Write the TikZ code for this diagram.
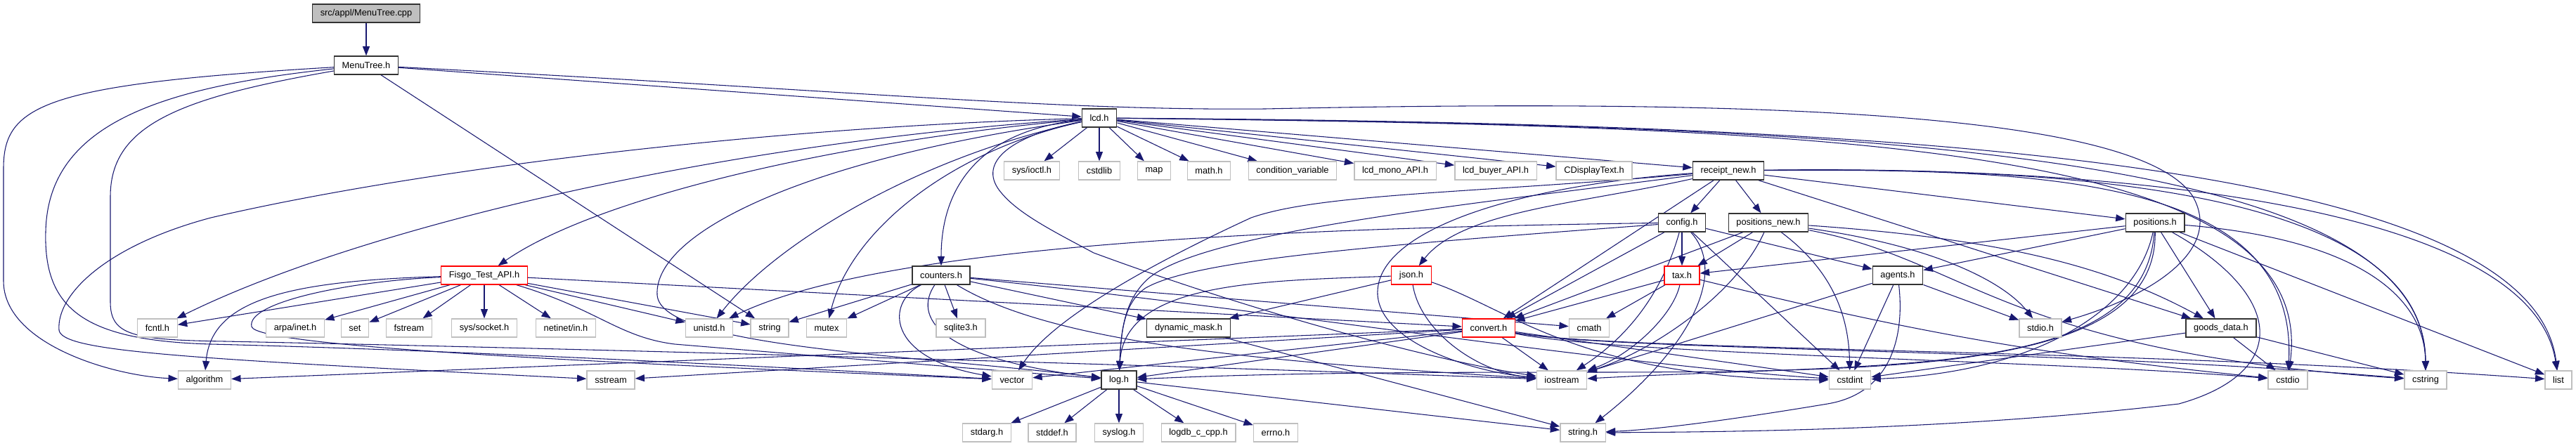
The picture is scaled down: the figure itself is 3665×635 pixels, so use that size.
\documentclass[tikz,border=0pt]{standalone}
\usepackage{fontspec}
\setmainfont{Liberation Sans}
\usetikzlibrary{arrows.meta,backgrounds}
\definecolor{edgeblue}{RGB}{25,25,112}
\definecolor{sysgray}{RGB}{191,191,191}

\begin{document}
\begin{tikzpicture}[
        x=0.75pt, y=-0.75pt,
        font=\fontsize{9.6pt}{11pt}\selectfont,
        box/.style={rectangle, inner xsep=8.4pt, inner ysep=0pt, minimum height=19.5pt, line width=1pt, fill=white},
        root/.style={box, draw=black!80, fill=sysgray},
        hdr/.style={box, draw=black!80},
        cut/.style={box, draw=red},
        sys/.style={box, draw=sysgray},
        link/.style={draw=edgeblue, line width=0.8pt, -{Triangle[length=10pt,width=7.5pt]}}
    ]
    \useasboundingbox (0,0) rectangle (3665,635);

    \node[root] (cpp) at (521,19) {src/appl/MenuTree.cpp};
    \node[hdr] (mt) at (521,93) {MenuTree.h};
    \node[hdr] (lcd) at (1564,168) {lcd.h};

    \node[sys] (ioctl) at (1468,243) {sys/ioctl.h};
    \node[sys] (cstdlib) at (1564,243) {cstdlib};
    \node[sys] (map) at (1642,243) {map};
    \node[sys] (mathh) at (1720,243) {math.h};
    \node[sys] (condvar) at (1839,243) {condition\_variable};
    \node[sys] (lcdmono) at (1985,243) {lcd\_mono\_API.h};
    \node[sys] (lcdbuyer) at (2128,243) {lcd\_buyer\_API.h};
    \node[sys] (cdisp) at (2268,243) {CDisplayText.h};
    \node[hdr] (receipt) at (2459,243) {receipt\_new.h};

    \node[hdr] (config) at (2393,317) {config.h};
    \node[hdr] (posnew) at (2516,317) {positions\_new.h};
    \node[hdr] (pos) at (3066,317) {positions.h};

    \node[cut] (fisgo) at (689,392) {Fisgo\_Test\_API.h};
    \node[hdr] (counters) at (1339,392) {counters.h};
    \node[cut] (json) at (2008,392) {json.h};
    \node[cut] (tax) at (2393,392) {tax.h};
    \node[hdr] (agents) at (2700,392) {agents.h};

    \node[sys] (fcntl) at (224,467) {fcntl.h};
    \node[sys] (inet) at (420,467) {arpa/inet.h};
    \node[sys] (set) at (505,467) {set};
    \node[sys] (fstream) at (582,467) {fstream};
    \node[sys] (socket) at (689,467) {sys/socket.h};
    \node[sys] (netin) at (805,467) {netinet/in.h};
    \node[sys] (unistd) at (1009,467) {unistd.h};
    \node[sys] (string) at (1095,467) {string};
    \node[sys] (mutex) at (1176,467) {mutex};
    \node[sys] (sqlite) at (1367,467) {sqlite3.h};
    \node[hdr] (dmask) at (1691,467) {dynamic\_mask.h};
    \node[cut] (convert) at (2118,467) {convert.h};
    \node[sys] (cmath) at (2261,467) {cmath};
    \node[sys] (stdio) at (2903,467) {stdio.h};
    \node[hdr] (goods) at (3160,467) {goods\_data.h};

    \node[sys] (algorithm) at (291,541) {algorithm};
    \node[sys] (sstream) at (869,541) {sstream};
    \node[sys] (vector) at (1440,541) {vector};
    \node[hdr] (logh) at (1592,541) {log.h};
    \node[sys] (iostream) at (2222,541) {iostream};
    \node[sys] (cstdint) at (2632,541) {cstdint};
    \node[sys] (cstdio) at (3255,541) {cstdio};
    \node[sys] (cstring) at (3451,541) {cstring};
    \node[sys] (list) at (3640,541) {list};

    \node[sys] (stdarg) at (1404,616) {stdarg.h};
    \node[sys] (stddef) at (1497,616) {stddef.h};
    \node[sys] (syslog) at (1592,616) {syslog.h};
    \node[sys] (logdb) at (1705,616) {logdb\_c\_cpp.h};
    \node[sys] (errno) at (1815,616) {errno.h};
    \node[sys] (stringh) at (2252,616) {string.h};

    \begin{scope}[on background layer]
    \draw[link] (cpp) -- (mt);

    \draw[link] (mt) -- (lcd);
    \draw[link] (mt) -- (string);
    \draw[link] (mt) .. controls (1200,128) and (1500,158) .. (1800,155) .. controls (2600,138) and (3050,170) .. (3120,280) .. controls (3165,360) and (3050,425) .. (stdio);
    \draw[link] (mt) .. controls (60,120) and (5,150) .. (5,240) -- (5,400) .. controls (5,490) and (160,535) .. (algorithm);
    \draw[link] (mt) .. controls (220,125) and (68,180) .. (65,330) .. controls (62,440) and (120,485) .. (300,490) .. controls (700,500) and (1200,528) .. (vector);
    \draw[link] (mt) .. controls (250,140) and (157,180) .. (157,280) -- (157,430) .. controls (157,478) and (190,484) .. (320,486) .. controls (1000,500) and (1800,525) .. (iostream);

    \foreach \t in {ioctl,cstdlib,map,mathh,condvar,lcdmono,lcdbuyer,cdisp,receipt}
        \draw[link] (lcd) -- (\t);
    \draw[link] (lcd) .. controls (1000,205) and (500,330) .. (fcntl);
    \draw[link] (lcd) .. controls (1200,200) and (850,280) .. (fisgo);
    \draw[link] (lcd) .. controls (1300,225) and (1100,350) .. (unistd);
    \draw[link] (lcd) .. controls (1350,215) and (1210,330) .. (mutex);
    \draw[link] (lcd) .. controls (1400,185) and (1339,260) .. (counters);
    \draw[link] (lcd) .. controls (1100,180) and (600,240) .. (300,310) .. controls (150,350) and (80,420) .. (84,470) .. controls (88,500) and (250,510) .. (sstream);
    \draw[link] (lcd) .. controls (1150,225) and (930,330) .. (935,420) .. controls (940,495) and (1300,505) .. (logh);
    \draw[link] (lcd) .. controls (1430,195) and (1390,235) .. (1425,275) .. controls (1450,305) and (1500,330) .. (1556,360) .. controls (1800,450) and (2050,515) .. (iostream);
    \draw[link] (lcd) .. controls (2600,180) and (3300,200) .. (cstdio);
    \draw[link] (lcd) .. controls (2600,178) and (3450,205) .. (cstring);
    \draw[link] (lcd) .. controls (2650,175) and (3600,220) .. (list);

    \foreach \t in {fcntl,inet,set,fstream,socket,netin,unistd,string,convert}
        \draw[link] (fisgo) -- (\t);
    \draw[link] (fisgo) .. controls (400,400) and (300,430) .. (algorithm);
    \draw[link] (fisgo) .. controls (500,400) and (350,430) .. (358,465) .. controls (365,495) and (900,518) .. (vector);
    \draw[link] (fisgo) .. controls (850,440) and (880,480) .. (960,490) .. controls (1200,510) and (1450,530) .. (logh);

    \foreach \t in {string,mutex,sqlite,dmask,cmath}
        \draw[link] (counters) -- (\t);
    \draw[link] (counters) .. controls (1260,430) and (1260,510) .. (vector);
    \draw[link] (counters) .. controls (1300,450) and (1330,510) .. (logh);
    \draw[link] (counters) .. controls (1500,490) and (1800,515) .. (iostream);
    \draw[link] (counters) .. controls (1800,440) and (2300,520) .. (cstdint);

    \foreach \t in {config,posnew,pos,convert,goods}
        \draw[link] (receipt) -- (\t);
    \draw[link] (receipt) .. controls (2250,290) and (2080,300) .. (json);
    \draw[link] (receipt) .. controls (2100,275) and (1880,275) .. (1780,310) .. controls (1650,370) and (1500,450) .. (vector);
    \draw[link] (receipt) .. controls (2100,290) and (1700,330) .. (1630,400) .. controls (1600,430) and (1595,470) .. (logh);
    \draw[link] (receipt) .. controls (2150,265) and (1955,330) .. (1960,420) .. controls (1965,490) and (2100,530) .. (iostream);
    \draw[link] (receipt) .. controls (2900,240) and (3270,250) .. (cstdio);
    \draw[link] (receipt) .. controls (2900,238) and (3450,260) .. (cstring);
    \draw[link] (receipt) .. controls (2950,236) and (3600,280) .. (list);

    \foreach \t in {tax,agents,convert,cstdint}
        \draw[link] (config) -- (\t);
    \draw[link] (config) .. controls (1800,325) and (1250,350) .. (unistd);
    \draw[link] (config) .. controls (1950,350) and (1700,370) .. (1630,410) .. controls (1600,430) and (1595,470) .. (logh);
    \draw[link] (config) .. controls (2370,400) and (2330,470) .. (iostream);
    \draw[link] (config) .. controls (2460,390) and (2400,500) .. (stringh);

    \foreach \t in {tax,convert}
        \draw[link] (posnew) -- (\t);
    \draw[link] (posnew) .. controls (2470,420) and (2350,500) .. (iostream);
    \draw[link] (posnew) .. controls (2600,380) and (2630,440) .. (cstdint);
    \draw[link] (posnew) .. controls (2750,350) and (2850,400) .. (stdio);
    \draw[link] (posnew) .. controls (2850,340) and (3000,380) .. (goods);
    \draw[link] (posnew) .. controls (2800,370) and (2850,500) .. (cstring);

    \foreach \t in {agents,tax,goods,list}
        \draw[link] (pos) -- (\t);
    \draw[link] (pos) .. controls (3350,340) and (3450,420) .. (cstring);
    \draw[link] (pos) .. controls (3040,440) and (2900,530) .. (cstdint);
    \draw[link] (pos) .. controls (3050,540) and (2700,515) .. (iostream);
    \draw[link] (pos) .. controls (3070,600) and (2400,505) .. (logh);
    \draw[link] (pos) .. controls (3250,420) and (3260,530) .. (3100,575) .. controls (2800,610) and (2500,615) .. (stringh);

    \draw[link] (json) -- (dmask);
    \draw[link] (json) .. controls (1800,400) and (1600,400) .. (logh);
    \draw[link] (json) .. controls (2020,470) and (2100,530) .. (iostream);
    \draw[link] (json) .. controls (2150,440) and (2250,540) .. (cstdint);

    \draw[link] (tax) -- (convert);
    \draw[link] (tax) -- (cmath);
    \draw[link] (tax) to[bend right=4] (cstdio);
    \draw[link] (tax) .. controls (2380,450) and (2320,505) .. (iostream);

    \foreach \t in {sstream,algorithm,vector,logh,iostream,cstdint}
        \draw[link] (convert) -- (\t);
    \draw[link] (convert) .. controls (2300,505) and (2900,512) .. (cstdio);
    \draw[link] (convert) .. controls (2300,500) and (2900,495) .. (cstring);
    \draw[link] (convert) .. controls (2300,500) and (3000,495) .. (list);

    \foreach \t in {stdio,cstdint,iostream}
        \draw[link] (agents) -- (\t);
    \draw[link] (agents) .. controls (2710,480) and (2690,560) .. (2600,575) .. controls (2450,600) and (2350,612) .. (stringh);

    \draw[link] (dmask) -- (stringh);
    \foreach \t in {cstdint,cstdio,cstring}
        \draw[link] (goods) -- (\t);
    \foreach \t in {stdarg,stddef,syslog,logdb,errno,stringh}
        \draw[link] (logh) -- (\t);
    \end{scope}
\end{tikzpicture}
\end{document}
